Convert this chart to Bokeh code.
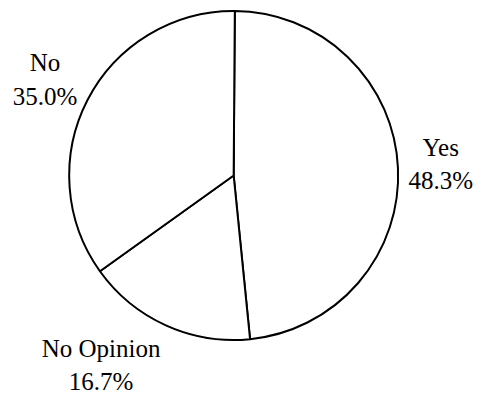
import math
from bokeh.plotting import figure
from bokeh.models import Range1d, ColumnDataSource
from bokeh.core.properties import value
from bokeh.embed import file_html
from bokeh.resources import INLINE

# Data
categories = ["Yes", "No Opinion", "No"]
percents = [48.3, 16.7, 35.0]

# Layout: data units = pixels of the 492x415 reference canvas (x right, y up)
W, H = 476, 399
REF_W, REF_H = 492, 415
cx, cy = 241, -182
radius = 170
start_deg = 89.6
label_centres = [(455, -170), (104, -379), (46, -82)]
font_px = "25px"

total = sum(percents)
starts, ends = [], []
a = math.radians(start_deg)
for v in percents:
    starts.append(a)
    a -= 2 * math.pi * v / total
    ends.append(a)

src = ColumnDataSource(dict(
    x=[cx] * len(categories), y=[cy] * len(categories),
    start=starts, end=ends,
))

p = figure(width=W, height=H, output_backend="svg", toolbar_location=None,
           x_range=Range1d(0, REF_W), y_range=Range1d(-REF_H, 0),
           min_border=0)
p.axis.visible = False
p.grid.visible = False
p.outline_line_color = None

p.wedge(x="x", y="y", radius=radius, start_angle="start", end_angle="end",
        direction="clock", source=src, fill_color="white",
        line_color="black", line_width=2)

labels = [f"{c}\n{v:.1f}%" for c, v in zip(categories, percents)]
lsrc = ColumnDataSource(dict(
    x=[pt[0] for pt in label_centres], y=[pt[1] for pt in label_centres],
    text=labels,
))
p.text(x="x", y="y", text="text", source=lsrc,
       text_font=value("Liberation Serif"), text_font_size=value(font_px),
       text_align="center", text_baseline="middle", text_color="black",
       text_line_height=1.25)

open("out.html", "w").write(file_html(p, INLINE))
